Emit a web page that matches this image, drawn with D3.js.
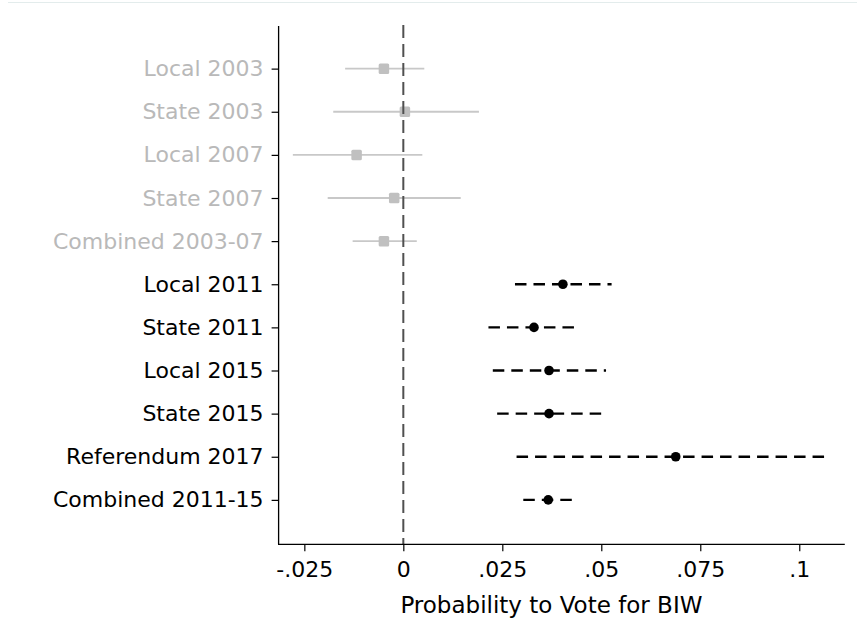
<!DOCTYPE html>
<html>
<head>
<meta charset="utf-8">
<script src="https://cdn.jsdelivr.net/npm/d3@7"></script>
<style>
  html, body { margin: 0; padding: 0; background: #ffffff; }
  svg { display: block; font-family: "DejaVu Sans", Verdana, sans-serif; }
</style>
</head>
<body>
<svg id="chart" width="857" height="622"></svg>
<script>
// Estimates of the effect on the probability to vote for BIW, with 95% CIs
const labels = [
  "Local 2003", "State 2003", "Local 2007", "State 2007", "Combined 2003-07",
  "Local 2011", "State 2011", "Local 2015", "State 2015", "Referendum 2017", "Combined 2011-15"
];
const estimates = [-0.0049, 0.0004, -0.0118, -0.0023, -0.0049, 0.0403, 0.0330, 0.0368, 0.0368, 0.0688, 0.0366];
const lowerCI   = [-0.0147, -0.0177, -0.0279, -0.0191, -0.0128, 0.0282, 0.0215, 0.0226, 0.0237, 0.0286, 0.0303];
const upperCI   = [0.0053, 0.0191, 0.0048, 0.0145, 0.0034, 0.0526, 0.0438, 0.0512, 0.0507, 0.1079, 0.0432];
// true = pre-2011 elections (placebo period, drawn in grey)
const placebo   = [true, true, true, true, true, false, false, false, false, false, false];
const xTicks    = [-0.025, 0, 0.025, 0.05, 0.075, 0.1];
const xTickLabels = ["-.025", "0", ".025", ".05", ".075", ".1"];
const xTitle = "Probability to Vote for BIW";

const rows = labels.map((l, i) => ({
  label: l, est: estimates[i], lo: lowerCI[i], hi: upperCI[i], placebo: placebo[i]
}));

const svg = d3.select("#chart");

const plot = { left: 278.6, right: 844.8, top: 25.5, bottom: 544.3 };

const x = d3.scaleLinear().domain([-0.0315, 0.1115]).range([plot.left, plot.right]);
const y = d3.scalePoint().domain(labels).range([plot.top, plot.bottom - 1.3]).padding(1);

const GREY_TEXT = "#b9b9b9";
const GREY_MARK = "#c0c0c0";
const GREY_LINE = "#c8c8c8";
const FONT = "DejaVu Sans, Verdana, sans-serif";

// faint frame line along the top
svg.append("line")
  .attr("x1", 8).attr("x2", 857).attr("y1", 2.5).attr("y2", 2.5)
  .attr("stroke", "#e3ecec").attr("stroke-width", 1.2);

// confidence intervals
const g = svg.append("g");
g.selectAll("line.ci")
  .data(rows)
  .join("line")
  .attr("class", "ci")
  .attr("x1", d => x(d.lo)).attr("x2", d => x(d.hi))
  .attr("y1", d => y(d.label)).attr("y2", d => y(d.label))
  .attr("stroke", d => d.placebo ? GREY_LINE : "#000")
  .attr("stroke-width", d => d.placebo ? 1.8 : 2.4)
  .attr("stroke-dasharray", d => d.placebo ? null : "11.5,7");

// reference line at zero
svg.append("line")
  .attr("x1", x(0)).attr("x2", x(0))
  .attr("y1", 25).attr("y2", plot.bottom)
  .attr("stroke", "#505050").attr("stroke-width", 2)
  .attr("stroke-dasharray", "13,6");

// point estimates
const sq = 10.5;
g.append("g").selectAll("rect")
  .data(rows.filter(d => d.placebo))
  .join("rect")
  .attr("x", d => x(d.est) - sq / 2).attr("y", d => y(d.label) - sq / 2)
  .attr("width", sq).attr("height", sq).attr("rx", 1.5)
  .attr("fill", GREY_MARK);

g.append("g").selectAll("circle")
  .data(rows.filter(d => !d.placebo))
  .join("circle")
  .attr("cx", d => x(d.est)).attr("cy", d => y(d.label))
  .attr("r", 4.8)
  .attr("fill", "#000");

// y axis
const yAxis = svg.append("g")
  .attr("transform", `translate(${plot.left},0)`)
  .call(d3.axisLeft(y).tickSize(7).tickPadding(8));
yAxis.select(".domain").remove();
yAxis.append("line")
  .attr("x1", 0).attr("x2", 0).attr("y1", 26).attr("y2", plot.bottom)
  .attr("stroke", "#000").attr("stroke-width", 1.3);
yAxis.selectAll(".tick line").attr("stroke", "#000").attr("stroke-width", 1.2);
yAxis.selectAll(".tick text")
  .attr("font-size", 22)
  .attr("font-family", FONT)
  .attr("fill", (d, i) => placebo[i] ? GREY_TEXT : "#000");

// x axis
const xAxis = svg.append("g")
  .attr("transform", `translate(0,${plot.bottom})`)
  .call(d3.axisBottom(x)
    .tickValues(xTicks)
    .tickFormat((d, i) => xTickLabels[i])
    .tickSize(7).tickPadding(10));
xAxis.select(".domain").remove();
xAxis.append("line")
  .attr("x1", plot.left - 0.6).attr("x2", plot.right).attr("y1", 0).attr("y2", 0)
  .attr("stroke", "#000").attr("stroke-width", 1.3);
xAxis.selectAll(".tick line").attr("stroke", "#000").attr("stroke-width", 1.2);
xAxis.selectAll(".tick text")
  .attr("font-size", 22)
  .attr("font-family", FONT)
  .attr("fill", "#000");

// x axis title
svg.append("text")
  .attr("x", x(0.0374)).attr("y", 613)
  .attr("text-anchor", "middle")
  .attr("font-size", 23)
  .attr("font-family", FONT)
  .attr("fill", "#000")
  .text(xTitle);
</script>
</body>
</html>
